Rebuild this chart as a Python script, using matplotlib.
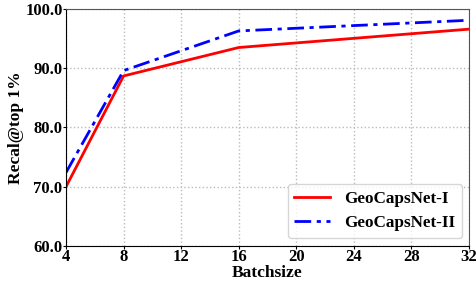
import matplotlib
matplotlib.use("Agg")
import matplotlib.pyplot as plt

batch = [4, 8, 16, 32]
net1 = [70.0, 88.7, 93.5, 96.6]
net2 = [72.4, 89.6, 96.3, 98.1]
xticks = [4, 8, 12, 16, 20, 24, 28, 32]
yticks = [60.0, 70.0, 80.0, 90.0, 100.0]

plt.rcParams['font.family'] = ['Liberation Serif', 'DejaVu Serif']
plt.rcParams['font.weight'] = 'bold'

fig = plt.figure(figsize=(4.77, 2.81), dpi=100)
ax = fig.add_axes([66/477, 1-246/281, (469-66)/477, (246-9)/281])
ax.plot(batch, net1, color='red', lw=2, ls='-', label='GeoCapsNet-I')
ax.plot(batch, net2, color='blue', lw=2, ls=(0, (6, 2, 1.5, 2)), label='GeoCapsNet-II')
ax.set_xlim(4, 32)
ax.set_ylim(60, 100)
ax.set_xticks(xticks)
ax.set_yticks(yticks)
ax.set_yticklabels([f"{v:.1f}" for v in yticks])
ax.tick_params(labelsize=12, length=2, pad=0.5)
for lab in ax.get_xticklabels() + ax.get_yticklabels():
    lab.set_fontweight('bold')
ax.grid(True, ls=':', color='#bbbbbb', lw=1)
ax.set_xlabel('Batchsize', fontsize=12.5, fontweight='bold', labelpad=0)
ax.set_ylabel('Recal@top 1%', fontsize=12.5, fontweight='bold', labelpad=1)
for s in ['top', 'right']:
    ax.spines[s].set_color('#555555')
leg = ax.legend(loc='lower right', prop={'weight': 'bold', 'size': 12.3}, handlelength=2.1,
                borderaxespad=0, bbox_to_anchor=((462-66)/403, 8/237))
fig.savefig('out.png', dpi=100)
